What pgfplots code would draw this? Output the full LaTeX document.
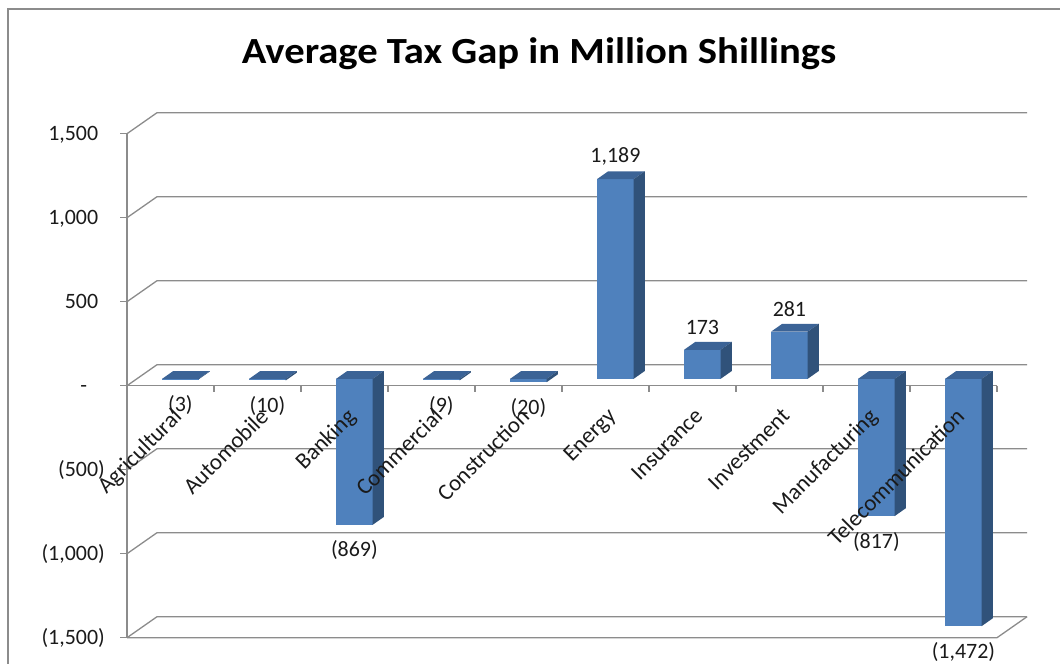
\documentclass[border=0pt]{standalone}
\usepackage{pgfplots}
\pgfplotsset{compat=1.18}
\usepackage{fontspec}
\setmainfont{Carlito}
\definecolor{barfront}{HTML}{4F81BD}
\definecolor{bartop}{HTML}{3B6396}
\definecolor{barside}{HTML}{30527A}
\definecolor{gridc}{HTML}{8C8C8C}
\definecolor{txt}{HTML}{1A1A1A}
\begin{document}
\begin{tikzpicture}
\useasboundingbox (0bp,0bp) rectangle (1060bp,-664bp);
\draw[gridc, line width=1.5bp] (8bp,-664bp) -- (8bp,-9bp) -- (1060bp,-9bp);
\node[anchor=base, xscale=1.103, font=\fontsize{37}{40}\selectfont\bfseries, text=black, inner sep=0pt] at (539bp,-63.5bp) {Average Tax Gap in Million Shillings};
\begin{axis}[
  at={(127bp,-637.7bp)}, anchor=south west,
  scale only axis, width=900bp, height=525bp,
  xmin=0, xmax=10.345, ymin=-1500, ymax=1625,
  axis lines*=left, axis line style={draw=none},
  clip=false,
  xtick=\empty,
  ytick={-1500,-1000,-500,0,500,1000,1500},
  yticklabels={{(1,500)},{(1,000)},{(500)},{-\phantom{0)}},{500\phantom{)}},{1,000\phantom{)}},{1,500\phantom{)}}},
  yticklabel style={font=\fontsize{22}{24}\selectfont, text=txt, anchor=east, inner sep=0pt, xshift=-15bp},
  tick align=outside, major tick length=7bp,
  ytick style={gridc, line width=1.3bp},
  every axis plot/.append style={line join=miter},
]
% side wall / back wall gridlines
\addplot[gridc, line width=1.3bp] coordinates {(0,-1500) (0.345,-1375) (10.345,-1375)};
\addplot[gridc, line width=1.3bp] coordinates {(0,-1000) (0.345,-875) (10.345,-875)};
\addplot[gridc, line width=1.3bp] coordinates {(0,-500) (0.345,-375) (10.345,-375)};
\addplot[gridc, line width=1.3bp] coordinates {(0,0) (0.345,125) (10.345,125)};
\addplot[gridc, line width=1.3bp] coordinates {(0,500) (0.345,625) (10.345,625)};
\addplot[gridc, line width=1.3bp] coordinates {(0,1000) (0.345,1125) (10.345,1125)};
\addplot[gridc, line width=1.3bp] coordinates {(0,1500) (0.345,1625) (10.345,1625)};
% floor front and right edge
\addplot[gridc, line width=1.3bp] coordinates {(0,-1500) (10,-1500) (10.345,-1375)};
% value axis
\addplot[gridc, line width=1.3bp] coordinates {(0,-1500) (0,1500)};
% category axis at zero with tick marks
\addplot[gridc, line width=1.3bp] coordinates {(0,0) (10,0)};
\addplot[gridc, line width=1.3bp, ycomb] coordinates {(1,-36) (2,-36) (3,-36) (4,-36) (5,-36) (6,-36) (7,-36) (8,-36) (9,-36) (10,-36)};
% 3-D columns
\foreach \i/\v in {0/-3, 1/-10, 2/-869, 3/-9, 4/-20, 5/1189, 6/173, 7/281, 8/-817, 9/-1472}{
  \pgfmathsetmacro\xa{\i+0.404}
  \pgfmathsetmacro\xb{\i+0.824}
  \pgfmathsetmacro\xc{\i+0.9515}
  \pgfmathsetmacro\xd{\i+0.5315}
  \pgfmathsetmacro\flo{min(0,\v)+41}
  \pgfmathsetmacro\fhi{max(0,\v)+41}
  \pgfmathsetmacro\blo{min(0,\v)+87.5}
  \pgfmathsetmacro\bhi{max(0,\v)+87.5}
  \edef\temp{%
    \noexpand\addplot[fill=barfront, draw=none] coordinates {(\xa,\flo) (\xb,\flo) (\xb,\fhi) (\xa,\fhi)};
    \noexpand\addplot[fill=bartop, draw=none] coordinates {(\xa,\fhi) (\xb,\fhi) (\xc,\bhi) (\xd,\bhi)};
    \noexpand\addplot[fill=barside, draw=none] coordinates {(\xb,\flo) (\xc,\blo) (\xc,\bhi) (\xb,\fhi)};
  }
  \temp
}
% value labels
\begin{scope}[every node/.style={font=\fontsize{22}{24}\selectfont, text=txt, inner sep=0pt}]
\node[yshift=-25.5bp] at (axis cs:0.614,38) {(3)};
\node[yshift=-25.5bp] at (axis cs:1.614,31) {(10)};
\node[yshift=-25.5bp] at (axis cs:2.614,-828) {(869)};
\node[yshift=-25.5bp] at (axis cs:3.614,32) {(9)};
\node[yshift=-25.5bp] at (axis cs:4.614,21) {(20)};
\node[yshift=14.5bp] at (axis cs:5.614,1276.5) {1,189};
\node[yshift=14.5bp] at (axis cs:6.614,260.5) {173};
\node[yshift=14.5bp] at (axis cs:7.614,368.5) {281};
\node[yshift=-25.5bp] at (axis cs:8.614,-776) {(817)};
\node[yshift=-25.5bp] at (axis cs:9.614,-1431) {(1,472)};
\end{scope}
% category labels
\begin{scope}[every node/.style={font=\fontsize{23}{25}\selectfont, text=txt, inner sep=0pt, xshift=1bp, yshift=-21bp, rotate=45, anchor=north east}]
\node at (axis cs:0.5,0) {Agricultural};
\node at (axis cs:1.5,0) {Automobile};
\node at (axis cs:2.5,0) {Banking};
\node at (axis cs:3.5,0) {Commercial};
\node at (axis cs:4.5,0) {Construction};
\node at (axis cs:5.5,0) {Energy};
\node at (axis cs:6.5,0) {Insurance};
\node at (axis cs:7.5,0) {Investment};
\node at (axis cs:8.5,0) {Manufacturing};
\node at (axis cs:9.5,0) {Telecommunication};
\end{scope}
\end{axis}
\end{tikzpicture}
\end{document}
